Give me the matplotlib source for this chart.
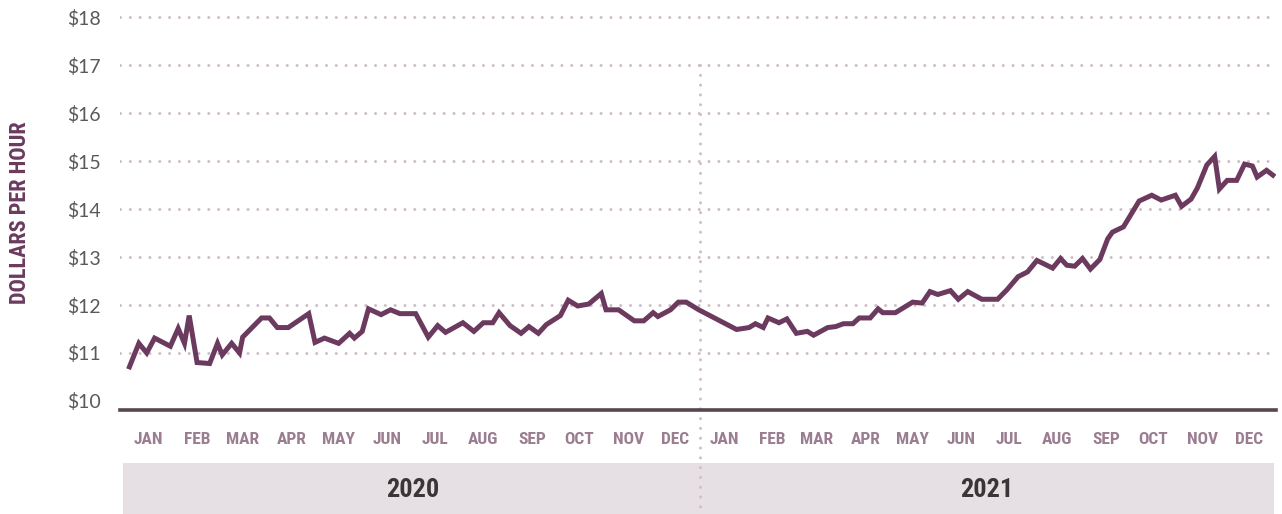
import matplotlib
matplotlib.use("Agg")
import matplotlib.pyplot as plt
import matplotlib.dates as mdates
from matplotlib import font_manager
from matplotlib.patches import Rectangle
import pandas as pd

# data (hourly wage, USD)
dates = [
    "2020-01-04", "2020-01-10", "2020-01-15", "2020-01-20", "2020-01-30", "2020-02-04",
    "2020-02-08", "2020-02-11", "2020-02-16", "2020-02-24", "2020-02-29", "2020-03-03",
    "2020-03-09", "2020-03-14", "2020-03-16", "2020-03-28", "2020-04-02", "2020-04-07",
    "2020-04-14", "2020-04-27", "2020-05-01", "2020-05-07", "2020-05-16", "2020-05-23",
    "2020-05-26", "2020-05-31", "2020-06-04", "2020-06-12", "2020-06-18", "2020-06-24",
    "2020-07-04", "2020-07-12", "2020-07-18", "2020-07-23", "2020-08-03", "2020-08-10",
    "2020-08-16", "2020-08-22", "2020-08-26", "2020-09-02", "2020-09-09", "2020-09-14",
    "2020-09-20", "2020-09-25", "2020-10-04", "2020-10-09", "2020-10-15", "2020-10-22",
    "2020-10-30", "2020-11-02", "2020-11-10", "2020-11-20", "2020-11-26", "2020-12-02",
    "2020-12-05", "2020-12-13", "2020-12-18", "2020-12-23", "2020-12-31",
    "2021-01-24", "2021-02-01", "2021-02-05", "2021-02-10", "2021-02-13", "2021-02-20",
    "2021-02-25", "2021-03-03", "2021-03-10", "2021-03-14", "2021-03-23", "2021-03-28",
    "2021-04-02", "2021-04-08", "2021-04-12", "2021-04-19", "2021-04-24", "2021-04-27",
    "2021-05-05", "2021-05-16", "2021-05-22", "2021-05-27", "2021-06-01", "2021-06-09",
    "2021-06-14", "2021-06-20", "2021-06-29", "2021-07-09", "2021-07-15", "2021-07-22",
    "2021-07-28", "2021-08-03", "2021-08-13", "2021-08-18", "2021-08-22", "2021-08-27",
    "2021-09-01", "2021-09-06", "2021-09-12", "2021-09-17", "2021-09-20", "2021-09-27",
    "2021-10-07", "2021-10-15", "2021-10-21", "2021-10-30", "2021-11-03", "2021-11-09",
    "2021-11-13", "2021-11-19", "2021-11-24", "2021-11-27", "2021-12-02", "2021-12-08",
    "2021-12-13", "2021-12-18", "2021-12-21", "2021-12-27", "2021-12-31",
]
wages = [
    10.71, 11.20, 11.00, 11.31, 11.14, 11.51,
    11.20, 11.78, 10.80, 10.78, 11.20, 10.96,
    11.20, 11.00, 11.33, 11.73, 11.73, 11.53,
    11.53, 11.82, 11.22, 11.31, 11.20, 11.41,
    11.31, 11.45, 11.92, 11.80, 11.90, 11.82,
    11.82, 11.33, 11.57, 11.43, 11.63, 11.45,
    11.63, 11.63, 11.84, 11.57, 11.41, 11.55,
    11.41, 11.59, 11.78, 12.10, 11.98, 12.02,
    12.24, 11.90, 11.90, 11.67, 11.67, 11.84,
    11.76, 11.90, 12.06, 12.06, 11.90,
    11.49, 11.53, 11.61, 11.53, 11.73, 11.63,
    11.71, 11.41, 11.45, 11.37, 11.53, 11.55,
    11.61, 11.61, 11.73, 11.73, 11.92, 11.84,
    11.84, 12.06, 12.04, 12.28, 12.22, 12.30,
    12.12, 12.28, 12.12, 12.12, 12.32, 12.59,
    12.69, 12.93, 12.77, 12.97, 12.83, 12.81,
    12.97, 12.75, 12.95, 13.38, 13.52, 13.63,
    14.17, 14.29, 14.19, 14.29, 14.06, 14.21,
    14.44, 14.92, 15.10, 14.42, 14.60, 14.60,
    14.94, 14.90, 14.67, 14.81, 14.71,
]
years = ["2020", "2021"]
months = ["JAN", "FEB", "MAR", "APR", "MAY", "JUN",
          "JUL", "AUG", "SEP", "OCT", "NOV", "DEC"]
yticks = [10, 11, 12, 13, 14, 15, 16, 17, 18]

# fonts
avail = {f.name for f in font_manager.fontManager.ttflist}
narrow = next((f for f in ["Liberation Sans Narrow", "DejaVu Sans Condensed",
                           "Roboto Condensed"] if f in avail), "DejaVu Sans")
thin = "Lato" if "Lato" in avail else "DejaVu Sans"

plum = "#6b3a5e"
mauve = "#9b7d91"
grid_c = "#cfbfc9"

W, H = 1282, 514
fig = plt.figure(figsize=(W / 100, H / 100), dpi=100)
fig.patch.set_facecolor("white")

# axes: px 120..1276 horizontally, px 15..410 vertically
ax = fig.add_axes([120 / W, 1 - 410 / H, 1156 / W, 395 / H])
ax.patch.set_visible(False)

x = pd.to_datetime(dates)
ax.plot(x, wages, color=plum, lw=3.6, solid_joinstyle="miter", zorder=5)

ax.set_xlim(pd.Timestamp("2019-12-29"), pd.Timestamp("2022-01-02"))
ax.set_ylim(9.81, 18.05)

for v in yticks[1:]:
    ax.axhline(v, color=grid_c, lw=2.2, ls=(0, (0.01, 3.2)),
               dash_capstyle="round", zorder=1)

for s in ["top", "right", "left"]:
    ax.spines[s].set_visible(False)
ax.spines["bottom"].set_color("#56464f")
ax.spines["bottom"].set_linewidth(2.6)
ax.spines["bottom"].set_zorder(6)

ax.set_yticks(yticks)
ax.set_yticklabels([f"${v}" for v in yticks], fontfamily=thin,
                   fontweight="normal", fontsize=14, color="#5a5a5a")
ax.tick_params(axis="y", length=0, pad=14)
ax.set_xticks([])

# month labels below the baseline
trans = ax.get_xaxis_transform()
y_month = (410 - 439) / 395
for yr in years:
    for i, m in enumerate(months):
        mid = pd.Timestamp(f"{yr}-{i + 1:02d}-01") + pd.Timedelta(days=15)
        ax.text(mid, y_month, m, transform=trans, ha="center", va="center",
                fontfamily=narrow, fontweight="bold", fontsize=12.5,
                color=mauve, clip_on=False)

# year band
fig.patches.append(Rectangle((123 / W, 0), (1274 - 123) / W, (514 - 463) / H,
                             transform=fig.transFigure, facecolor="#e6e0e4",
                             edgecolor="none", zorder=-1))
y_year = (410 - 490) / 395
for yr in years:
    mid = pd.Timestamp(f"{yr}-07-02")
    ax.text(mid, y_year, yr, transform=trans, ha="center", va="center",
            fontfamily=narrow, fontweight="bold", fontsize=19,
            color="#3a3636", clip_on=False)

# year divider
y_bottom = 9.81 - (514 - 410) / 395 * (18.05 - 9.81)
ax.plot([pd.Timestamp("2021-01-01")] * 2, [17, y_bottom], color=grid_c, lw=2.2,
        ls=(0, (0.01, 3.2)), dash_capstyle="round", clip_on=False, zorder=1)

fig.text(20 / W, 1 - 213 / H, "DOLLARS PER HOUR", rotation=90, ha="center",
         va="center", fontfamily=narrow, fontweight="bold", fontsize=16,
         color=plum)

fig.savefig("out.png", dpi=100)
